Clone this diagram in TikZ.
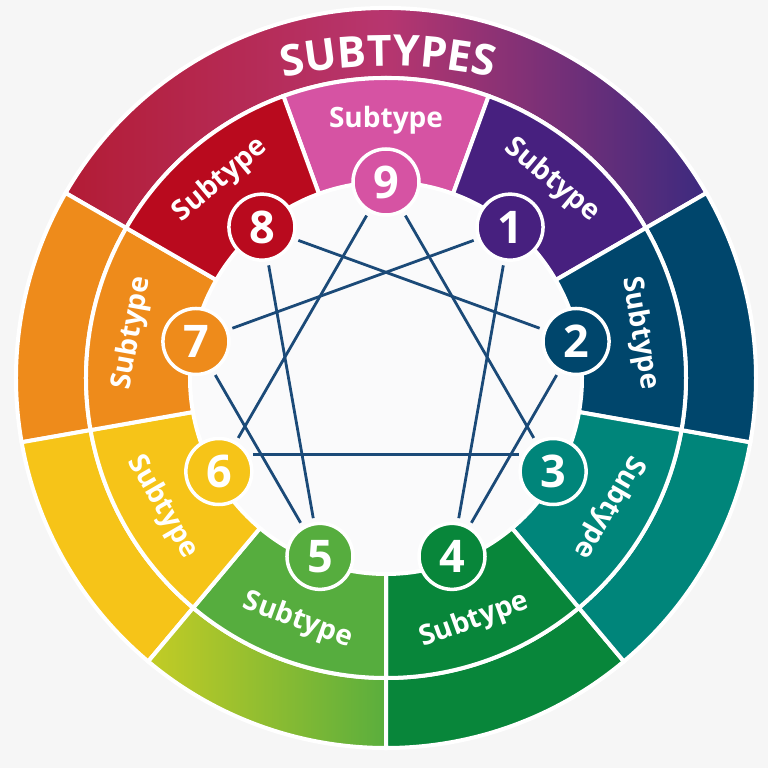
\documentclass[tikz,border=0pt]{standalone}
\usepackage{fontspec}
\setmainfont{Open Sans}
\usetikzlibrary{decorations.text}
\definecolor{cnine}{HTML}{D653A3}
\definecolor{cone}{HTML}{47207F}
\definecolor{ctwo}{HTML}{00466C}
\definecolor{cthree}{HTML}{00857A}
\definecolor{cfour}{HTML}{08863A}
\definecolor{cfive}{HTML}{56AD3E}
\definecolor{csix}{HTML}{F6C418}
\definecolor{cseven}{HTML}{EE8B1B}
\definecolor{ceight}{HTML}{B90A1E}
\definecolor{cline}{HTML}{1B4A78}
\definecolor{cbg}{HTML}{F6F6F6}
\definecolor{ccenter}{HTML}{FAFAFB}
\definecolor{ctopl}{HTML}{B31C35}
\definecolor{ctopm}{HTML}{B7366F}
\definecolor{ctopr}{HTML}{3C2A7F}
\definecolor{climel}{HTML}{C3CC25}
\definecolor{climer}{HTML}{5AAE3D}
% #1 fill, #2 #3 angles, #4 #5 radii
\newcommand{\ringpart}[5]{%
  \path[#1,draw=white,line width=4pt,line join=miter]
    (#2:#4) -- (#2:#5) arc[start angle=#2,end angle=#3,radius=#5]
    -- (#3:#4) arc[start angle=#3,end angle=#2,radius=#4] -- cycle;}
\begin{document}
\begin{tikzpicture}[x=1pt,y=1pt,
    num/.style={circle,draw=white,line width=3.5pt,minimum size=66pt,inner sep=0pt,
      text=white,font=\bfseries\fontsize{45}{45}\selectfont},
    sub/.style={text=white,font=\bfseries\fontsize{28}{28}\selectfont},
    lines/.style={draw=cline,line width=2.8pt,shorten >=4pt,shorten <=4pt}]
  \useasboundingbox (-386,-390) rectangle (382,378);
  \fill[cbg] (-386,-390) rectangle (382,378);
  \fill[ccenter] (0,0) circle (198);
  % outer ring
  \ringpart{left color=ctopl,right color=ctopr,middle color=ctopm}{30}{150}{300}{370}
  \ringpart{fill=cseven}{150}{190}{300}{370}
  \ringpart{fill=csix}{190}{230}{300}{370}
  \ringpart{left color=climel,right color=climer}{230}{270}{300}{370}
  \ringpart{fill=cfour}{-90}{-50}{300}{370}
  \ringpart{fill=cthree}{-50}{-10}{300}{370}
  \ringpart{fill=ctwo}{-10}{30}{300}{370}
  % inner ring
  \foreach \a/\c in {90/cnine,50/cone,10/ctwo,-30/cthree,-70/cfour,
                     -110/cfive,-150/csix,170/cseven,130/ceight}
    \ringpart{fill=\c}{\a-20}{\a+20}{196}{300};
  \foreach \n/\a/\r in {9/90/0,1/50/-40,2/10/-80,3/-30/-120,4/-70/20,
                        5/-110/-20,6/-150/-60,7/170/80,8/130/40}
    \node[sub,rotate=\r] (sub\n) at (\a:258) {Subtype};
  \path[decorate,decoration={text along path,text align=center,text color=white,
      text={|\bfseries\fontsize{43}{43}\selectfont|SUBTYPES}}]
    (2,-168) ++(120:480) arc[start angle=120,end angle=60,radius=480];
  \begin{scope}[yshift=3pt]
    \draw
      (90:193) node[num,fill=cnine] (9){9}
      (50:193) node[num,fill=cone] (1){1}
      (10:193) node[num,fill=ctwo] (2){2}
      (-30:193) node[num,fill=cthree] (3){3}
      (-70:193) node[num,fill=cfour] (4){4}
      (-110:193) node[num,fill=cfive] (5){5}
      (-150:193) node[num,fill=csix] (6){6}
      (170:193) node[num,fill=cseven] (7){7}
      (130:193) node[num,fill=ceight] (8){8};
  \end{scope}
  \begin{scope}[lines]
    \draw (9) to (3);
    \draw (9) to (6);
    \draw (6.30) to (3.150);
    \draw (1) to (4);
    \draw (1) to (7);
    \draw (2) to (4);
    \draw (2) to (8);
    \draw (8) to (5);
    \draw (7) to (5);
  \end{scope}
\end{tikzpicture}
\end{document}
